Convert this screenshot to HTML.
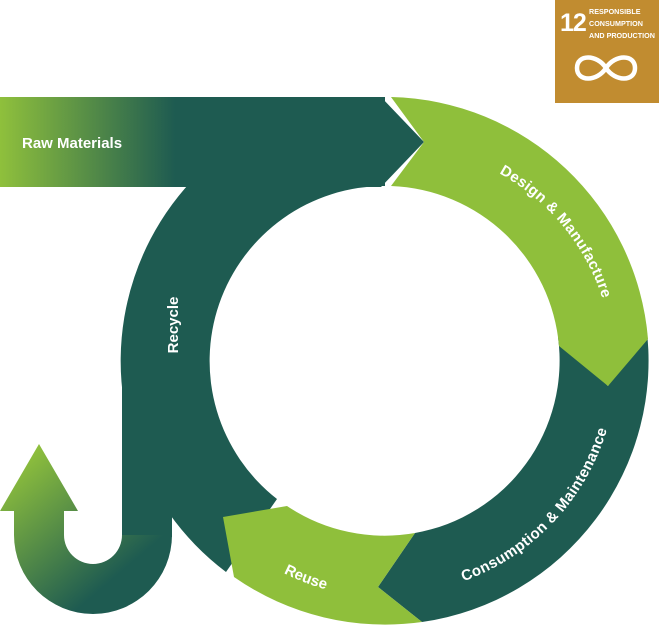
<!DOCTYPE html>
<html><head><meta charset="utf-8"><style>
html,body{margin:0;padding:0;background:#fff;}
svg{display:block;}
text{font-family:"Liberation Sans",sans-serif;font-weight:bold;fill:#fff;}
</style></head><body>
<svg width="659" height="628" viewBox="0 0 659 628" xmlns="http://www.w3.org/2000/svg">
<defs>
<linearGradient id="bar" x1="0" y1="0" x2="175" y2="0" gradientUnits="userSpaceOnUse">
<stop offset="0" stop-color="#8fc03c"/><stop offset="1" stop-color="#1e5b51"/></linearGradient>
<linearGradient id="hook" x1="20" y1="460" x2="135" y2="595" gradientUnits="userSpaceOnUse">
<stop offset="0" stop-color="#8fc03c"/><stop offset="0.85" stop-color="#1e5b51"/></linearGradient>
<path id="pDesign" d="M 470,160 A 219 219 0 0 1 610,330"/>
<path id="pCons" d="M 380,595 A 232 232 0 0 0 616,345"/>
<path id="pReuse" d="M 233,539 A 236 236 0 0 0 386,598"/>
</defs>
<path d="M385,97 A264 264 0 0 0 226,572 L277,499 A175 175 0 0 1 385,186 Z" fill="#1e5b51"/>
<rect x="122" y="355" width="50" height="182" fill="#1e5b51"/>
<path d="M122,535 A29 29 0 0 1 64,535 L64,511 L78,511 L39,444 L0,511 L14,511 L14,535 A79 79 0 0 0 172,535 Z" fill="url(#hook)"/>
<path d="M0,97 L381,97 L424,142 L381,187 L0,187 Z" fill="url(#bar)"/>
<path d="M646,324 A264 264 0 0 1 422,622 L378,587 L415,533 A175 175 0 0 0 558,337 L608,386 Z" fill="#1e5b51"/>
<path d="M391,97 A264 264 0 0 1 648,339 L608,386 L559,346 A175 175 0 0 0 391,186 L424,142 Z" fill="#8fbf3b"/>
<path d="M415,533 L378,587 L422,622 A264 264 0 0 1 234,577 L223,517 L287,506 A175 175 0 0 0 415,533 Z" fill="#8fbf3b"/>
<text x="22" y="148" font-size="15">Raw Materials</text>
<text font-size="15" letter-spacing="0.4"><textPath href="#pDesign" startOffset="50%" text-anchor="middle">Design &amp; Manufacture</textPath></text>
<text font-size="15" letter-spacing="0.4"><textPath href="#pCons" startOffset="50%" text-anchor="middle">Consumption &amp; Maintenance</textPath></text>
<text font-size="15"><textPath href="#pReuse" startOffset="50%" text-anchor="middle">Reuse</textPath></text>
<text font-size="15" text-anchor="middle" transform="translate(178,325) rotate(-90)">Recycle</text>
<rect x="555" y="0" width="104" height="103" fill="#c18c30"/>
<text x="560" y="31" font-size="25" letter-spacing="-1">12</text>
<text x="589" y="14" font-size="7.2">RESPONSIBLE</text>
<text x="589" y="26" font-size="7.2">CONSUMPTION</text>
<text x="589" y="38" font-size="7.2">AND PRODUCTION</text>
<path d="M606,68 C597,54 577,54 577,68 C577,82 597,82 606,68 C615,54 635,54 635,68 C635,82 615,82 606,68" fill="none" stroke="#fff" stroke-width="4.5"/>
</svg>
</body></html>
